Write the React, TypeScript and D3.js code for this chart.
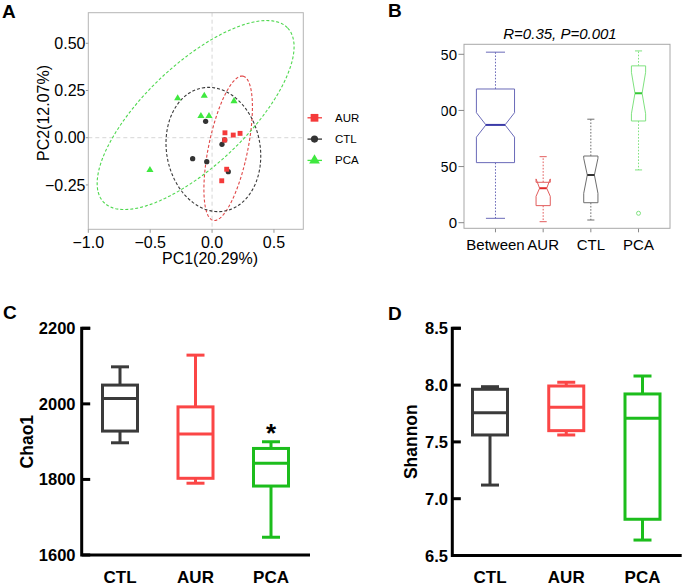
import React from "react";
import * as d3 from "d3";

const FONT = "'Liberation Sans', Arial, Helvetica, sans-serif";

// ---------- Panel A : PCA ----------
const pcaGroupNames = ["AUR", "CTL", "PCA"];
const aurPC1 = [0.104, 0.171, 0.226, 0.102, 0.118, 0.078];
const aurPC2 = [0.026, 0.014, 0.023, -0.012, -0.167, -0.228];
const ctlPC1 = [-0.052, 0.08, -0.157, -0.043, 0.131, 0.102];
const ctlPC2 = [0.087, -0.035, -0.111, -0.127, -0.18, -0.012];
const pcaPC1 = [-0.278, -0.063, 0.177, -0.09, -0.025, -0.502];
const pcaPC2 = [0.209, 0.222, 0.194, 0.115, 0.115, -0.171];
// confidence ellipses (data units): centre, major & minor semi-axis vectors
const ellipseCX = [0.13, 0.0105, -0.133];
const ellipseCY = [-0.056, -0.0625, 0.12];
const ellipseMajor = [[0.12, 0.382], [-0.0905, 0.326], [0.744, 0.461]];
const ellipseMinor = [[0.155, -0.0209], [0.372, 0.0445], [0.282, -0.195]];
const pc1Ticks = [-1.0, -0.5, 0.0, 0.5];
const pc2Ticks = [-0.25, 0.0, 0.25, 0.5];

// ---------- Panel B : ANOSIM ----------
const anosimGroups = ["Between", "AUR", "CTL", "PCA"];
const anosimN = [108, 15, 15, 15];
const anosimWhiskLo = [3.9, 0.9, 2.4, 47];
const anosimQ1 = [53.5, 15.2, 17.8, 90.6];
const anosimNotchLo = [76.2, 23.5, 26.2, 97];
const anosimMedian = [87.1, 30.7, 42.5, 115.3];
const anosimNotchHi = [98.0, 39.0, 57.3, 134];
const anosimQ3 = [119.1, 36.0, 59.4, 139.7];
const anosimWhiskHi = [151.9, 58.8, 92.2, 153];
const anosimOutliers = [[], [], [], [8.4]];
const anosimTicks = [0, 50, 100, 150];
const anosimTitle = "R=0.35, P=0.001";

// ---------- Panel C : Chao1 ----------
const alphaGroups = ["CTL", "AUR", "PCA"];
const chaoMin = [1897, 1790, 1647];
const chaoQ1 = [1928, 1803, 1782.5];
const chaoMedian = [2014.5, 1920, 1842.6];
const chaoQ3 = [2049.7, 1992, 1882];
const chaoMax = [2098, 2129, 1899.7];
const chaoTicks = [1600, 1800, 2000, 2200];
const chaoSignif = ["", "", "*"];

// ---------- Panel D : Shannon ----------
const shannonMin = [7.12, 7.561, 6.636];
const shannonQ1 = [7.561, 7.599, 6.819];
const shannonMedian = [7.757, 7.805, 7.708];
const shannonQ3 = [7.963, 7.992, 7.922];
const shannonMax = [7.986, 8.025, 8.08];
const shannonTicks = [6.5, 7.0, 7.5, 8.0, 8.5];

const groupColors = { CTL: "#3b3b3b", AUR: "#fb4646", PCA: "#1cbd1c" };

function PanelA() {
  const x = d3.scaleLinear().domain([-1.0, 0.737]).range([88.3, 303.3]);
  const y = d3.scaleLinear().domain([-0.485, 0.662]).range([229.3, 12.7]);
  const groups = [
    { name: "AUR", xs: aurPC1, ys: aurPC2, color: "#f53a3a", ell: "#e04848", sym: d3.symbolSquare, size: 24, lsize: 60 },
    { name: "CTL", xs: ctlPC1, ys: ctlPC2, color: "#333333", ell: "#3a3a3a", sym: d3.symbolCircle, size: 22, lsize: 40 },
    { name: "PCA", xs: pcaPC1, ys: pcaPC2, color: "#3fe83f", ell: "#4fd84f", sym: d3.symbolTriangle, size: 22, lsize: 50 },
  ];
  const line = d3.line<number[]>().x((d) => x(d[0])).y((d) => y(d[1])).curve(d3.curveLinearClosed);
  const ellipsePath = (i: number) => {
    const pts = d3.range(0, 360, 3).map((deg) => {
      const t = (deg * Math.PI) / 180;
      return [
        ellipseCX[i] + ellipseMajor[i][0] * Math.cos(t) + ellipseMinor[i][0] * Math.sin(t),
        ellipseCY[i] + ellipseMajor[i][1] * Math.cos(t) + ellipseMinor[i][1] * Math.sin(t),
      ];
    });
    return line(pts) || "";
  };
  const order = [2, 1, 0];
  const [x0, x1] = x.range();
  const [y0, y1] = y.range();
  return (
    <g>
      <text x={2} y={17.5} fontSize={19} fontWeight="bold">A</text>
      {/* reference lines */}
      <line x1={x(0)} x2={x(0)} y1={y1} y2={y0} stroke="#d6d6d6" strokeDasharray="4,3" />
      <line x1={x0} x2={x1} y1={y(0)} y2={y(0)} stroke="#d6d6d6" strokeDasharray="4,3" />
      {/* ellipses */}
      {groups.map((g, i) => (
        <path key={g.name} d={ellipsePath(i)} fill="none" stroke={g.ell} strokeWidth={1.1} strokeDasharray="3,2" />
      ))}
      {/* points */}
      {order.map((gi) => {
        const g = groups[gi];
        const s = d3.symbol().type(g.sym).size(g.size)();
        return g.xs.map((v, j) => (
          <path key={g.name + j} d={s || ""} transform={`translate(${x(v)},${y(g.ys[j])})`} fill={g.color} />
        ));
      })}
      {/* frame */}
      <rect x={x0} y={y1} width={x1 - x0} height={y0 - y1} fill="none" stroke="#b5b5b5" strokeWidth={1} />
      {pc1Ticks.map((t) => (
        <g key={"xt" + t}>
          <line x1={x(t)} x2={x(t)} y1={y0} y2={y0 + 3.5} stroke="#999" />
          <text x={x(t)} y={248} fontSize={16} textAnchor="middle">{d3.format(".1f")(t)}</text>
        </g>
      ))}
      {pc2Ticks.map((t) => (
        <g key={"yt" + t}>
          <line x1={x0 - 2.5} x2={x0} y1={y(t)} y2={y(t)} stroke="#999" />
          <text x={85.5} y={y(t) + 5.6} fontSize={16} textAnchor="end">{d3.format(".2f")(t)}</text>
        </g>
      ))}
      <text x={210} y={264} fontSize={16} textAnchor="middle">PC1(20.29%)</text>
      <text transform="translate(48.5,113) rotate(-90)" fontSize={16} textAnchor="middle">PC2(12.07%)</text>
      {/* legend */}
      {groups.map((g, i) => {
        const ly = 117.8 + i * 21.3;
        const s = d3.symbol().type(g.sym).size(g.lsize)();
        return (
          <g key={"lg" + g.name}>
            <line x1={307.5} x2={322} y1={ly} y2={ly} stroke={g.color} strokeWidth={1.3} />
            <path d={s || ""} transform={`translate(314.5,${ly})`} fill={g.color} />
            <text x={335} y={ly + 4} fontSize={11.5}>{pcaGroupNames[i]}</text>
          </g>
        );
      })}
    </g>
  );
}

function PanelB() {
  const x = d3.scaleLinear().domain([0.34, 4.66]).range([464, 670]);
  const y = d3.scaleLinear().domain([0, 150]).range([222.7, 54.3]);
  const maxN = d3.max(anosimN) || 1;
  const colors = [
    { line: "#6a6ab8", med: "#3b3ba8" },
    { line: "#e25c5c", med: "#e02828" },
    { line: "#6e6e6e", med: "#333333" },
    { line: "#7fe27f", med: "#35c835" },
  ];
  const top = 44.3, bottom = 228.3;
  return (
    <g>
      <defs>
        <clipPath id="bTickClip">
          <rect x={441.5} y={0} width={30} height={260} />
        </clipPath>
      </defs>
      <text x={388} y={16.7} fontSize={19} fontWeight="bold">B</text>
      <text x={560} y={39} fontSize={15} fontStyle="italic" textAnchor="middle">{anosimTitle}</text>
      {anosimGroups.map((g, i) => {
        const cx = x(i + 1);
        const w = x(1 + 0.4 * Math.sqrt(anosimN[i] / maxN)) - x(1);
        const nw = 0.5;
        const pts: [number, number][] = [
          [-w, anosimQ1[i]], [w, anosimQ1[i]], [w, anosimNotchLo[i]], [nw * w, anosimMedian[i]],
          [w, anosimNotchHi[i]], [w, anosimQ3[i]], [-w, anosimQ3[i]], [-w, anosimNotchHi[i]],
          [-nw * w, anosimMedian[i]], [-w, anosimNotchLo[i]],
        ];
        const d = "M" + pts.map((p) => `${cx + p[0]},${y(p[1])}`).join("L") + "Z";
        const c = colors[i];
        const sw = w * 0.5;
        return (
          <g key={g}>
            <line x1={cx} x2={cx} y1={y(anosimQ3[i])} y2={y(anosimWhiskHi[i])} stroke={c.line} strokeDasharray="1.6,1.6" />
            <line x1={cx} x2={cx} y1={y(anosimQ1[i])} y2={y(anosimWhiskLo[i])} stroke={c.line} strokeDasharray="1.6,1.6" />
            <line x1={cx - sw} x2={cx + sw} y1={y(anosimWhiskHi[i])} y2={y(anosimWhiskHi[i])} stroke={c.line} />
            <line x1={cx - sw} x2={cx + sw} y1={y(anosimWhiskLo[i])} y2={y(anosimWhiskLo[i])} stroke={c.line} />
            <path d={d} fill="white" stroke={c.line} strokeWidth={1} />
            <line x1={cx - nw * w} x2={cx + nw * w} y1={y(anosimMedian[i])} y2={y(anosimMedian[i])} stroke={c.med} strokeWidth={2} />
            {anosimOutliers[i].map((o, k) => (
              <circle key={k} cx={cx} cy={y(o)} r={2} fill="none" stroke={c.line} />
            ))}
            <line x1={cx} x2={cx} y1={bottom} y2={bottom + 4} stroke="#888" />
            <text x={cx} y={249.5} fontSize={15} textAnchor="middle">{g}</text>
          </g>
        );
      })}
      <rect x={464} y={top} width={670 - 464} height={bottom - top} fill="none" stroke="#a8a8a8" />
      <g clipPath="url(#bTickClip)">
        {anosimTicks.map((t) => (
          <g key={t}>
            <line x1={458.5} x2={464} y1={y(t)} y2={y(t)} stroke="#888" />
            <text x={457} y={y(t) + 5.4} fontSize={15} textAnchor="end">{t}</text>
          </g>
        ))}
      </g>
    </g>
  );
}

type AlphaProps = {
  letter: string; letterX: number; letterY: number;
  label: string; labelX: number;
  xRange: [number, number]; yDomain: [number, number]; yRange: [number, number];
  ticks: number[]; fmt: (n: number) => string; axisX: number; axisRight: number; tickLabelX: number;
  mins: number[]; q1s: number[]; meds: number[]; q3s: number[]; maxs: number[];
  signif?: string[];
};

function AlphaPanel(p: AlphaProps) {
  const x = d3.scalePoint<string>().domain(alphaGroups).range(p.xRange);
  const y = d3.scaleLinear().domain(p.yDomain).range(p.yRange);
  const yTop = y(p.yDomain[1]);
  const yBot = y(p.yDomain[0]);
  const w = 17.5;
  const cap = 9;
  return (
    <g>
      <text x={p.letterX} y={p.letterY} fontSize={19} fontWeight="bold">{p.letter}</text>
      {alphaGroups.map((g, i) => {
        const cx = x(g) || 0;
        const col = (groupColors as any)[g];
        return (
          <g key={g} stroke={col} strokeWidth={3} fill="none">
            <line x1={cx} x2={cx} y1={y(p.q3s[i])} y2={y(p.maxs[i])} />
            <line x1={cx} x2={cx} y1={y(p.q1s[i])} y2={y(p.mins[i])} />
            <line x1={cx - cap} x2={cx + cap} y1={y(p.maxs[i])} y2={y(p.maxs[i])} />
            <line x1={cx - cap} x2={cx + cap} y1={y(p.mins[i])} y2={y(p.mins[i])} />
            <rect x={cx - w} y={y(p.q3s[i])} width={2 * w} height={y(p.q1s[i]) - y(p.q3s[i])} fill="white" />
            <line x1={cx - w} x2={cx + w} y1={y(p.meds[i])} y2={y(p.meds[i])} />
          </g>
        );
      })}
      {p.signif && alphaGroups.map((g, i) =>
        p.signif && p.signif[i] ? (
          <text key={"s" + g} x={x(g)} y={y(p.maxs[i]) + 0.5} fontSize={26} fontWeight="bold" textAnchor="middle">{p.signif[i]}</text>
        ) : null
      )}
      <path d={`M${p.axisX + 8.5},${yTop} H${p.axisX} V${yBot} H${p.axisRight}`} fill="none" stroke="#000" strokeWidth={3} strokeLinejoin="miter" />
      {p.ticks.map((t) => (
        <g key={t}>
          <line x1={p.axisX} x2={p.axisX + 8.5} y1={y(t)} y2={y(t)} stroke="#000" strokeWidth={3} />
          <text x={p.tickLabelX} y={y(t) + 6} fontSize={16.5} fontWeight="bold" textAnchor="end">{p.fmt(t)}</text>
        </g>
      ))}
      {alphaGroups.map((g) => (
        <text key={"xl" + g} x={x(g)} y={582.5} fontSize={17} fontWeight="bold" textAnchor="middle">{g}</text>
      ))}
      <text transform={`translate(${p.labelX},441.7) rotate(-90)`} fontSize={17.5} fontWeight="bold" textAnchor="middle">{p.label}</text>
    </g>
  );
}

export default function App() {
  return (
    <div style={{ position: "absolute", left: 0, top: 0 }}>
      <svg width={685} height={586} style={{ display: "block", background: "#fff" }} fontFamily={FONT}>
        <PanelA />
        <PanelB />
        <AlphaPanel
          letter="C" letterX={3} letterY={318.5} label="Chao1" labelX={33.3}
          xRange={[120, 271]} yDomain={[1600, 2200]} yRange={[555, 328.3]}
          ticks={chaoTicks} fmt={d3.format("d")} axisX={81.7} axisRight={310} tickLabelX={75.5}
          mins={chaoMin} q1s={chaoQ1} meds={chaoMedian} q3s={chaoQ3} maxs={chaoMax} signif={chaoSignif}
        />
        <AlphaPanel
          letter="D" letterX={388} letterY={320} label="Shannon" labelX={416.7}
          xRange={[490, 642.5]} yDomain={[6.5, 8.5]} yRange={[555.5, 328.3]}
          ticks={shannonTicks} fmt={d3.format(".1f")} axisX={452.3} axisRight={681.7} tickLabelX={448}
          mins={shannonMin} q1s={shannonQ1} meds={shannonMedian} q3s={shannonQ3} maxs={shannonMax}
        />
      </svg>
    </div>
  );
}
